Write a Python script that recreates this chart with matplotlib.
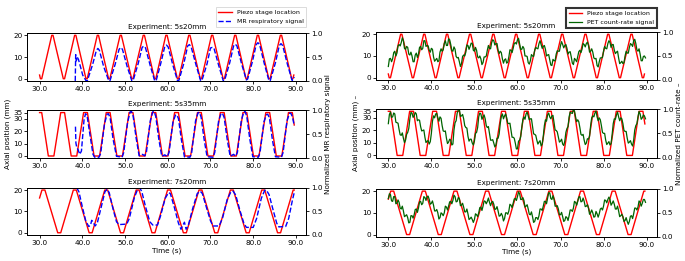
"""
Piezo stage location vs MR respiratory / PET count-rate signal,
three experiments (5s20mm, 5s35mm, 7s20mm), two columns.
Saves out.png
"""

import numpy as np
import matplotlib

matplotlib.use("Agg")
import matplotlib.pyplot as plt
from matplotlib.ticker import FormatStrFormatter

# ---------------------------------------------------------------- data
# piezo stage location, corner points of the waveform (time s, position mm)
piezo_5s20_t = [30.0, 30.2, 30.5, 32.85, 33.15, 35.55, 35.85, 38.2, 38.5, 40.85, 41.15,
                43.5, 43.8, 46.15, 46.45, 48.85, 49.15, 51.55, 51.85, 54.25, 54.55,
                56.9, 57.2, 59.55, 59.85, 62.25, 62.55, 64.9, 65.2, 67.6, 67.9,
                70.25, 70.55, 72.95, 73.25, 75.65, 75.95, 78.3, 78.6, 80.95, 81.25,
                83.65, 83.95, 86.35, 86.65, 89.0, 89.3, 89.5]
piezo_5s20_mm = [1.7, 0, 0, 20, 20, 0, 0, 20, 20, 0, 0,
                 20, 20, 0, 0, 20, 20, 0, 0, 20, 20,
                 0, 0, 20, 20, 0, 0, 20, 20, 0, 0,
                 20, 20, 0, 0, 20, 20, 0, 0, 20, 20,
                 0, 0, 20, 20, 0, 0, 1.7]

piezo_5s35_t = [30.0, 30.5, 32.05, 33.35, 34.95, 35.85, 37.4, 38.7, 40.3, 41.2, 42.75,
                44.05, 45.6, 46.5, 48.1, 49.4, 50.95, 51.85, 53.4, 54.7, 56.3, 57.2,
                58.75, 60.05, 61.6, 62.5, 64.05, 65.35, 66.95, 67.85, 69.4, 70.7,
                72.3, 73.2, 74.75, 76.05, 77.6, 78.5, 80.05, 81.35, 82.95, 83.85,
                85.4, 86.7, 88.25, 89.15, 89.6]
piezo_5s35_mm = [35, 35, 0, 0, 35, 35, 0, 0, 35, 35, 0,
                 0, 35, 35, 0, 0, 35, 35, 0, 0, 35, 35,
                 0, 0, 35, 35, 0, 0, 35, 35, 0, 0,
                 35, 35, 0, 0, 35, 35, 0, 0, 35, 35,
                 0, 0, 35, 35, 25]

piezo_7s20_t = [30.0, 30.55, 31.25, 34.25, 34.95, 37.9, 38.6, 41.6, 42.3, 45.25, 45.95,
                48.95, 49.65, 52.6, 53.3, 56.3, 57.0, 59.95, 60.65, 63.65, 64.35,
                67.3, 68.0, 71.0, 71.7, 74.65, 75.35, 78.35, 79.05, 82.0, 82.7,
                85.7, 86.4, 89.35, 89.6]
piezo_7s20_mm = [16.3, 20, 20, 0, 0, 20, 20, 0, 0, 20, 20,
                 0, 0, 20, 20, 0, 0, 20, 20, 0, 0,
                 20, 20, 0, 0, 20, 20, 0, 0, 20, 20,
                 0, 0, 20, 20]

# MR respiratory signal (normalized)
mr_5s20_t = [38.35, 38.45, 38.6, 38.8, 39.1, 39.5, 40.1, 40.9, 41.2, 42.4, 43.3, 43.65,
             44.0, 45.0, 46.2, 46.5, 47.7, 48.6, 49.0, 49.4, 50.5, 51.6, 51.9, 53.1,
             54.0, 54.4, 54.8, 55.9, 56.95, 57.3, 58.4, 59.3, 59.7, 60.1, 61.2, 62.3,
             62.6, 63.8, 64.65, 65.05, 65.45, 66.6, 67.7, 68.0, 69.2, 70.0, 70.4, 70.8,
             71.9, 73.0, 73.3, 74.5, 75.4, 75.8, 76.2, 77.3, 78.4, 78.7, 79.8, 80.7,
             81.1, 81.5, 82.6, 83.7, 84.0, 85.2, 86.1, 86.5, 86.9, 88.0, 89.1, 89.4, 89.6]
mr_5s20_v = [0.0, 0.55, 0.42, 0.5, 0.45, 0.32, 0.12, 0.0, 0.01, 0.34, 0.64, 0.68,
             0.64, 0.3, 0.0, 0.01, 0.35, 0.66, 0.70, 0.66, 0.3, 0.0, 0.01, 0.37,
             0.7, 0.73, 0.69, 0.32, 0.0, 0.01, 0.38, 0.72, 0.75, 0.71, 0.33, 0.0,
             0.01, 0.38, 0.73, 0.76, 0.72, 0.34, 0.0, 0.01, 0.36, 0.69, 0.70, 0.69,
             0.33, 0.0, 0.01, 0.38, 0.73, 0.77, 0.73, 0.35, 0.02, 0.04, 0.4, 0.76,
             0.80, 0.76, 0.36, 0.0, 0.01, 0.38, 0.74, 0.78, 0.74, 0.35, 0.01, 0.03, 0.08]

mr_5s35_t = [38.4, 38.5, 38.7, 39.0, 39.4, 39.8, 40.4, 40.75, 41.1, 41.6, 42.5, 42.9,
             43.9, 44.3, 45.2, 45.8, 46.1, 46.5, 47.2, 48.0, 49.3, 49.7, 50.6, 51.2,
             51.5, 51.9, 52.6, 53.3, 54.1, 54.6, 55.0, 55.9, 56.5, 56.8, 57.2, 57.9,
             58.6, 59.3, 59.9, 60.3, 61.2, 61.8, 62.1, 62.5, 63.2, 63.9, 65.2, 65.6,
             66.5, 67.1, 67.4, 67.8, 68.5, 69.2, 70.6, 71.0, 71.9, 72.5, 72.8, 73.2,
             73.9, 74.6, 75.4, 75.9, 76.3, 77.2, 77.8, 78.1, 78.5, 79.2, 79.9, 81.2,
             81.6, 82.5, 83.1, 83.4, 83.8, 84.5, 85.2, 86.6, 87.0, 87.9, 88.5, 88.8,
             89.2, 89.6]
mr_5s35_v = [0.66, 0.32, 0.22, 0.18, 0.08, 0.15, 0.8, 0.93, 0.9, 0.6, 0.08, 0.02,
             0.02, 0.1, 0.72, 0.92, 0.93, 0.85, 0.4, 0.04, 0.02, 0.12, 0.75, 0.97,
             0.98, 0.88, 0.42, 0.05, 0.08, 0.05, 0.12, 0.78, 0.97, 0.98, 0.87, 0.4,
             0.04, 0.07, 0.03, 0.12, 0.75, 0.9, 0.91, 0.83, 0.38, 0.03, 0.02, 0.12,
             0.78, 0.95, 0.96, 0.86, 0.4, 0.03, 0.02, 0.12, 0.78, 0.94, 0.94, 0.85,
             0.4, 0.04, 0.08, 0.04, 0.12, 0.78, 0.97, 0.98, 0.87, 0.4, 0.03, 0.02,
             0.12, 0.76, 0.91, 0.92, 0.84, 0.38, 0.03, 0.02, 0.12, 0.78, 0.94, 0.94,
             0.86, 0.68]

mr_7s20_t = [38.7, 39.2, 40.0, 40.8, 41.5, 41.9, 42.2, 42.6, 43.0, 43.5, 44.5, 45.3,
             45.8, 46.3, 47.2, 48.0, 48.6, 50.4, 51.0, 52.2, 53.0, 53.4, 53.9, 54.8,
             55.8, 56.5, 57.6, 58.3, 59.4, 60.2, 60.6, 61.5, 62.5, 63.1, 63.5, 63.9,
             64.3, 64.8, 65.8, 66.9, 67.6, 68.1, 69.0, 70.0, 70.6, 72.0, 72.8, 73.9,
             74.8, 75.3, 75.9, 76.8, 77.8, 78.4, 80.0, 80.8, 81.9, 82.7, 83.1, 83.7,
             84.6, 85.5, 86.0, 87.6, 88.3, 89.2, 89.6]
mr_7s20_v = [1.0, 0.92, 0.6, 0.3, 0.18, 0.2, 0.31, 0.26, 0.19, 0.25, 0.62, 0.92,
             0.97, 0.9, 0.55, 0.28, 0.22, 0.23, 0.35, 0.8, 0.98, 1.0, 0.93, 0.6,
             0.28, 0.21, 0.21, 0.4, 0.78, 0.9, 0.88, 0.6, 0.25, 0.12, 0.2, 0.27,
             0.12, 0.2, 0.55, 0.88, 0.93, 0.88, 0.6, 0.3, 0.19, 0.19, 0.35, 0.75,
             0.92, 0.93, 0.85, 0.55, 0.25, 0.16, 0.16, 0.35, 0.78, 0.95, 0.95, 0.86,
             0.55, 0.25, 0.17, 0.18, 0.35, 0.75, 0.9]

# PET count-rate signal (normalized): samples every 0.5 s from 30 s,
# plus the in-between samples (at +0.25 s)
pet_t0 = 30.0
pet_dt = 0.5
pet_5s20 = [0.28, 0.45, 0.44, 0.60, 0.56, 0.74, 0.78, 0.82, 0.64, 0.68,
            0.52, 0.50, 0.38, 0.56, 0.54, 0.70, 0.66, 0.82, 0.72, 0.62,
            0.66, 0.48, 0.42, 0.38, 0.58, 0.60, 0.76, 0.72, 0.86, 0.74,
            0.60, 0.64, 0.46, 0.38, 0.34, 0.52, 0.58, 0.72, 0.70, 0.76,
            0.60, 0.62, 0.46, 0.44, 0.36, 0.48, 0.62, 0.66, 0.78, 0.82,
            0.76, 0.62, 0.60, 0.44, 0.42, 0.35, 0.48, 0.62, 0.66, 0.78,
            0.84, 0.76, 0.64, 0.66, 0.50, 0.36, 0.40, 0.50, 0.62, 0.66,
            0.76, 0.74, 0.70, 0.64, 0.52, 0.42, 0.30, 0.40, 0.54, 0.60,
            0.72, 0.74, 0.72, 0.66, 0.58, 0.48, 0.32, 0.42, 0.48, 0.62,
            0.64, 0.74, 0.76, 0.72, 0.60, 0.58, 0.44, 0.30, 0.38, 0.46,
            0.60, 0.66, 0.76, 0.78, 0.74, 0.62, 0.58, 0.46, 0.36, 0.34,
            0.50, 0.56, 0.68, 0.74, 0.82, 0.76, 0.60, 0.54, 0.40, 0.50]
pet_5s20_mid = [0.44, 0.38, 0.57, 0.50, 0.71, 0.71, 0.88, 0.66, 0.70, 0.54,
                0.58, 0.38, 0.52, 0.47, 0.68, 0.63, 0.82, 0.70, 0.71, 0.58,
                0.64, 0.39, 0.45, 0.40, 0.65, 0.63, 0.82, 0.72, 0.84, 0.61,
                0.69, 0.49, 0.47, 0.28, 0.49, 0.50, 0.73, 0.64, 0.77, 0.62,
                0.68, 0.48, 0.50, 0.32, 0.48, 0.50, 0.72, 0.65, 0.84, 0.73,
                0.76, 0.55, 0.57, 0.35, 0.44, 0.37, 0.63, 0.57, 0.76, 0.75,
                0.87, 0.64, 0.70, 0.50, 0.49, 0.33, 0.53, 0.49, 0.68, 0.65,
                0.82, 0.66, 0.72, 0.50, 0.53, 0.31, 0.43, 0.40, 0.61, 0.60,
                0.80, 0.67, 0.74, 0.54, 0.59, 0.35, 0.45, 0.38, 0.59, 0.57,
                0.76, 0.69, 0.79, 0.58, 0.65, 0.46, 0.45, 0.27, 0.46, 0.47,
                0.70, 0.65, 0.82, 0.68, 0.74, 0.55, 0.60, 0.34, 0.39, 0.36,
                0.60, 0.56, 0.76, 0.70, 0.85, 0.63, 0.65, 0.40, 0.49, 0.46]
pet_5s35 = [0.70, 0.94, 0.84, 0.90, 0.72, 0.58, 0.46, 0.40, 0.36, 0.52,
            0.80, 0.92, 0.86, 0.90, 0.78, 0.64, 0.56, 0.42, 0.34, 0.28,
            0.50, 0.86, 0.90, 0.82, 0.84, 0.66, 0.54, 0.40, 0.32, 0.36,
            0.28, 0.72, 0.92, 1.00, 0.86, 0.80, 0.62, 0.44, 0.38, 0.30,
            0.34, 0.52, 0.84, 0.90, 0.84, 0.80, 0.62, 0.50, 0.36, 0.30,
            0.26, 0.40, 0.70, 0.90, 0.86, 0.82, 0.70, 0.56, 0.42, 0.30,
            0.18, 0.36, 0.62, 0.84, 0.90, 0.86, 0.80, 0.64, 0.48, 0.36,
            0.32, 0.24, 0.44, 0.78, 0.88, 0.84, 0.86, 0.72, 0.56, 0.42,
            0.34, 0.28, 0.34, 0.60, 0.84, 0.92, 1.00, 0.84, 0.78, 0.62,
            0.46, 0.36, 0.30, 0.38, 0.66, 0.86, 0.92, 0.84, 0.82, 0.66,
            0.50, 0.36, 0.30, 0.26, 0.48, 0.80, 0.88, 0.84, 0.82, 0.70,
            0.54, 0.40, 0.32, 0.28, 0.36, 0.66, 0.84, 0.90, 0.82, 0.86]
pet_5s35_mid = [0.89, 0.83, 0.92, 0.73, 0.71, 0.47, 0.51, 0.31, 0.48, 0.60,
                0.93, 0.83, 0.93, 0.76, 0.77, 0.55, 0.57, 0.31, 0.35, 0.33,
                0.75, 0.82, 0.91, 0.75, 0.81, 0.55, 0.55, 0.29, 0.38, 0.26,
                0.57, 0.76, 0.98, 0.85, 0.89, 0.66, 0.61, 0.34, 0.38, 0.26,
                0.50, 0.62, 0.92, 0.79, 0.88, 0.66, 0.64, 0.36, 0.37, 0.22,
                0.40, 0.49, 0.85, 0.80, 0.90, 0.71, 0.71, 0.42, 0.40, 0.18,
                0.34, 0.43, 0.78, 0.79, 0.94, 0.78, 0.80, 0.49, 0.46, 0.28,
                0.35, 0.28, 0.66, 0.75, 0.92, 0.80, 0.87, 0.57, 0.53, 0.32,
                0.38, 0.25, 0.52, 0.64, 0.94, 0.91, 0.96, 0.74, 0.74, 0.48,
                0.48, 0.27, 0.39, 0.44, 0.82, 0.84, 0.96, 0.76, 0.78, 0.52,
                0.50, 0.27, 0.33, 0.29, 0.70, 0.79, 0.94, 0.76, 0.80, 0.56,
                0.54, 0.30, 0.35, 0.24, 0.57, 0.70, 0.95, 0.79, 0.88, 0.80]
pet_7s20 = [0.80, 0.88, 0.74, 0.84, 0.70, 0.72, 0.58, 0.54, 0.44, 0.40,
            0.30, 0.44, 0.46, 0.58, 0.60, 0.74, 0.70, 0.82, 0.84, 0.78,
            0.70, 0.66, 0.54, 0.50, 0.40, 0.48, 0.50, 0.62, 0.64, 0.74,
            0.76, 0.84, 0.74, 0.80, 0.66, 0.62, 0.52, 0.48, 0.38, 0.36,
            0.36, 0.46, 0.50, 0.62, 0.64, 0.74, 0.74, 0.72, 0.72, 0.68,
            0.58, 0.54, 0.44, 0.44, 0.38, 0.50, 0.54, 0.66, 0.70, 0.80,
            0.84, 0.90, 0.78, 0.76, 0.64, 0.58, 0.46, 0.42, 0.32, 0.40,
            0.44, 0.58, 0.64, 0.74, 0.80, 0.92, 0.78, 0.78, 0.64, 0.58,
            0.46, 0.42, 0.34, 0.40, 0.44, 0.56, 0.60, 0.72, 0.74, 0.84,
            0.74, 0.74, 0.64, 0.60, 0.50, 0.50, 0.42, 0.48, 0.48, 0.60,
            0.64, 0.76, 0.78, 0.78, 0.70, 0.68, 0.58, 0.54, 0.44, 0.42,
            0.34, 0.32, 0.32, 0.44, 0.48, 0.60, 0.62, 0.72, 0.70, 0.78]
pet_7s20_mid = [0.90, 0.75, 0.84, 0.69, 0.77, 0.60, 0.64, 0.42, 0.46, 0.29,
                0.44, 0.39, 0.57, 0.51, 0.73, 0.67, 0.84, 0.76, 0.85, 0.68,
                0.75, 0.54, 0.57, 0.37, 0.50, 0.44, 0.64, 0.56, 0.73, 0.69,
                0.87, 0.73, 0.82, 0.65, 0.70, 0.52, 0.58, 0.36, 0.41, 0.30,
                0.48, 0.42, 0.61, 0.55, 0.75, 0.69, 0.81, 0.65, 0.74, 0.57,
                0.63, 0.43, 0.49, 0.33, 0.50, 0.47, 0.68, 0.61, 0.79, 0.76,
                0.94, 0.78, 0.82, 0.62, 0.67, 0.47, 0.52, 0.30, 0.40, 0.36,
                0.58, 0.55, 0.74, 0.69, 0.92, 0.80, 0.86, 0.64, 0.65, 0.46,
                0.51, 0.32, 0.42, 0.34, 0.56, 0.53, 0.74, 0.66, 0.83, 0.73,
                0.81, 0.63, 0.67, 0.47, 0.56, 0.41, 0.53, 0.41, 0.58, 0.56,
                0.77, 0.71, 0.83, 0.66, 0.75, 0.58, 0.64, 0.42, 0.47, 0.32,
                0.40, 0.26, 0.43, 0.38, 0.60, 0.56, 0.75, 0.64, 0.78, 0.72]

experiments = ["5s20mm", "5s35mm", "7s20mm"]
piezo_t = [piezo_5s20_t, piezo_5s35_t, piezo_7s20_t]
piezo_mm = [piezo_5s20_mm, piezo_5s35_mm, piezo_7s20_mm]
mr_t = [mr_5s20_t, mr_5s35_t, mr_7s20_t]
mr_v = [mr_5s20_v, mr_5s35_v, mr_7s20_v]
pet_main = [pet_5s20, pet_5s35, pet_7s20]
pet_mid = [pet_5s20_mid, pet_5s35_mid, pet_7s20_mid]
pos_ticks = [[0, 10, 20], [0, 10, 20, 30, 35], [0, 10, 20]]
time_ticks = [30, 40, 50, 60, 70, 80, 90]
norm_ticks = [0.0, 0.5, 1.0]

# interleave the 0.5 s samples with the in-between samples
pet_t, pet_v = [], []
for main, mid in zip(pet_main, pet_mid):
    t_main = pet_t0 + pet_dt * np.arange(len(main))
    t_mid = t_main + pet_dt / 2
    pet_t.append(np.column_stack([t_main, t_mid]).ravel())
    pet_v.append(np.column_stack([main, mid]).ravel())

# ---------------------------------------------------------------- layout
FS = 5.2
left_boxes = [[0.040, 0.690, 0.407, 0.183],
              [0.040, 0.394, 0.407, 0.183],
              [0.040, 0.100, 0.407, 0.180]]
right_boxes = [[0.549, 0.694, 0.410, 0.183],
               [0.549, 0.396, 0.410, 0.186],
               [0.549, 0.093, 0.410, 0.183]]

fig = plt.figure(figsize=(6.85, 2.61), dpi=100)


def style_axes(ax, ax2, i):
    ax.set_xlim(27.15, 92.4)
    ax.set_xticks(time_ticks)
    ax.xaxis.set_major_formatter(FormatStrFormatter("%.1f"))
    ax.set_yticks(pos_ticks[i])
    ax2.set_ylim(0, 1)
    ax2.set_yticks(norm_ticks)
    ax2.yaxis.set_major_formatter(FormatStrFormatter("%.1f"))
    for a in (ax, ax2):
        a.tick_params(labelsize=FS, length=2, width=0.6, pad=1.5)
        for sp in a.spines.values():
            sp.set_linewidth(0.7)
    ax.set_title("Experiment: " + experiments[i], fontsize=FS, pad=3)


def draw_column(boxes, sig_t, sig_v, sig_style, sig_label, right_label, left_label):
    axes = []
    for i, box in enumerate(boxes):
        ax = fig.add_axes(box)
        l1, = ax.plot(piezo_t[i], piezo_mm[i], color="red", lw=1.0,
                      label="Piezo stage location")
        ax2 = ax.twinx()
        l2, = ax2.plot(sig_t[i], sig_v[i], label=sig_label, **sig_style)
        style_axes(ax, ax2, i)
        axes.append((ax, ax2, l1, l2))
    axes[1][0].set_ylabel(left_label, fontsize=FS, labelpad=2)
    axes[1][1].set_ylabel(right_label, fontsize=FS, labelpad=2)
    axes[2][0].set_xlabel("Time (s)", fontsize=FS, labelpad=1)
    return axes


# left column: MR
left = draw_column(left_boxes, mr_t, mr_v,
                   dict(color="blue", lw=1.0, ls="--"),
                   "MR respiratory signal",
                   "Normalized MR respiratory signal",
                   "Axial position (mm)")
ax, ax2, l1, l2 = left[0]
leg = ax.legend([l1, l2], [l1.get_label(), l2.get_label()], loc="lower right",
                bbox_to_anchor=(1.0, 1.13), borderaxespad=0, fontsize=4.5,
                handlelength=2.2, labelspacing=0.6, fancybox=False)
leg.get_frame().set_linewidth(0.6)

# right column: PET
right = draw_column(right_boxes, pet_t, pet_v,
                    dict(color="darkgreen", lw=0.9),
                    "PET count-rate signal",
                    "Normalized PET count-rate \u2013",
                    "Axial position (mm) \u2013")
ax, ax2, l1, l2 = right[0]
leg = ax.legend([l1, l2], [l1.get_label(), l2.get_label()], loc="lower right",
                bbox_to_anchor=(1.0, 1.09), borderaxespad=0, fontsize=4.5,
                handlelength=2.2, labelspacing=0.6, fancybox=False,
                edgecolor="black")
leg.get_frame().set_linewidth(1.5)

fig.savefig("out.png", dpi=100)
